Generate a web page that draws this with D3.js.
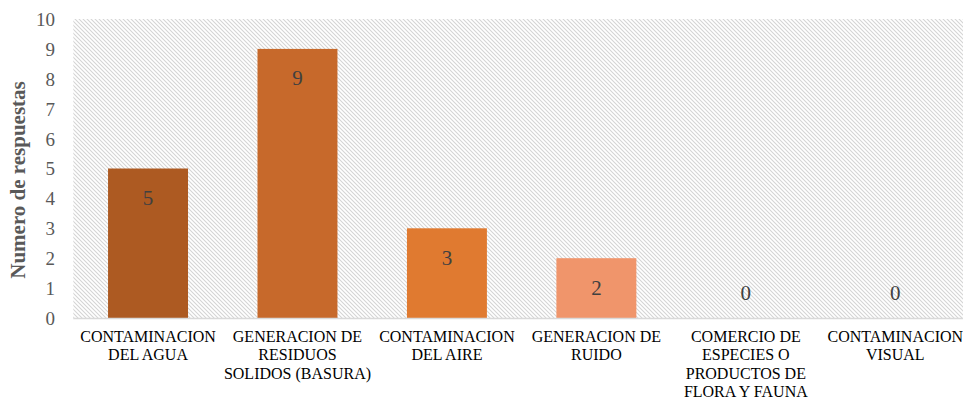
<!DOCTYPE html>
<html><head><meta charset="utf-8">
<script src="https://cdn.jsdelivr.net/npm/d3@7"></script>
<style>body{margin:0;background:#fff}svg{display:block}</style>
</head><body>
<script>
const categories = [
  ["CONTAMINACION","DEL AGUA"],
  ["GENERACION DE","RESIDUOS","SOLIDOS (BASURA)"],
  ["CONTAMINACION","DEL AIRE"],
  ["GENERACION DE","RUIDO"],
  ["COMERCIO DE","ESPECIES O","PRODUCTOS DE","FLORA Y FAUNA"],
  ["CONTAMINACION","VISUAL"]
];
const values = [5, 9, 3, 2, 0, 0];
const barColors = ["#AD5A22", "#C7692B", "#E07A30", "#F0956B", "#A5A5A5", "#A5A5A5"];
const yTicks = [0,1,2,3,4,5,6,7,8,9,10];
const yTitle = "Numero de respuestas";

const W = 963, H = 400;
const m = {left: 73.3, right: 970, top: 19, bottom: 318};
const serif = '"Liberation Serif"';
const svg = d3.select("body").append("svg").attr("width", W).attr("height", H);

const defs = svg.append("defs");
const pat = defs.append("pattern").attr("id","hatch").attr("patternUnits","userSpaceOnUse")
  .attr("width",4).attr("height",4);
pat.append("path").attr("d","M-1,-1 L5,5 M-1,3 L1,5 M3,-1 L5,1")
  .attr("stroke","#d4d4d4").attr("stroke-width",1.1).attr("fill","none");

const x = d3.scaleBand().domain(d3.range(categories.length)).range([m.left, m.right]).paddingInner(0.465).paddingOuter(0.2325);
const y = d3.scaleLinear().domain([0,10]).range([m.bottom, m.top]);

svg.append("rect").attr("x", m.left).attr("y", m.top).attr("width", m.right - m.left).attr("height", m.bottom - m.top)
  .attr("fill","url(#hatch)");

svg.append("g").selectAll("rect").data(values).join("rect")
  .attr("x",(d,i)=>x(i)).attr("width",x.bandwidth())
  .attr("y",d=>y(d)).attr("height",d=>y(0)-y(d))
  .attr("fill",(d,i)=>barColors[i]);

// zero axis line
svg.append("line").attr("x1",m.left).attr("x2",m.right).attr("y1",y(0)+0.5).attr("y2",y(0)+0.5)
  .attr("stroke","#d9d9d9").attr("stroke-width",1.5);

// y axis
const yAxis = d3.axisLeft(y).tickValues(yTicks).tickSize(0).tickPadding(0).tickFormat(d3.format("d"));
const gy = svg.append("g").attr("transform","translate(55,0)").call(yAxis);
gy.select(".domain").remove();
gy.selectAll("text").style("font-family", serif).style("font-size","19px")
  .attr("fill","#595959").attr("dy","0.34em");

// x axis labels
const xAxis = d3.axisBottom(x).tickSize(0).tickFormat(()=>"");
const gx = svg.append("g").attr("transform",`translate(0,${y(0)})`).call(xAxis);
gx.select(".domain").remove();
gx.selectAll(".tick").each(function(i){
  const t = d3.select(this).append("text")
    .style("font-family", serif).style("font-size","16px")
    .attr("fill","#000").attr("text-anchor","middle");
  categories[i].forEach((line,k)=>{
    t.append("tspan").attr("x",0).attr("y",23.5 + k*18.6).text(line);
  });
});

// data labels
svg.append("g").selectAll("text").data(values).join("text")
  .attr("x",(d,i)=>x(i)+x.bandwidth()/2)
  .attr("y",d=> d>0 ? y(d)+29 : y(0)-25)
  .attr("dy","0.35em")
  .attr("text-anchor","middle")
  .style("font-family", serif).style("font-size","21px")
  .attr("fill","#404040")
  .text(d=>d);

// y title
svg.append("text").attr("transform","translate(25,180) rotate(-90)")
  .attr("text-anchor","middle")
  .style("font-family", serif).style("font-size","21px").style("font-weight","bold")
  .attr("fill","#595959")
  .text(yTitle);
</script>
</body></html>
